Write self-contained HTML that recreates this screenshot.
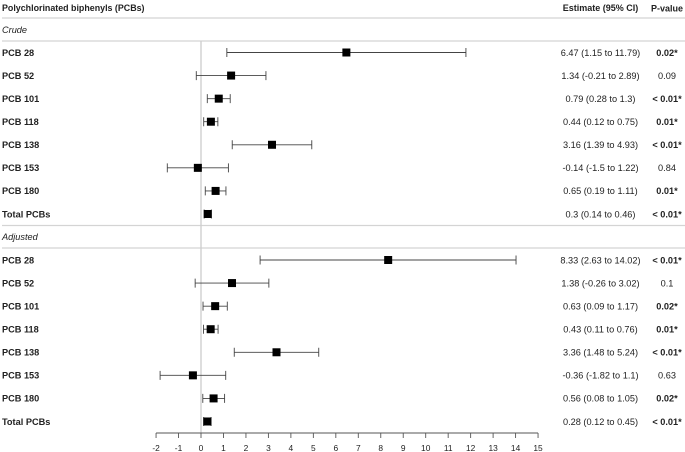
<!DOCTYPE html>
<html>
<head>
<meta charset="utf-8">
<style>
html,body{margin:0;padding:0;background:#fff;width:685px;height:452px;overflow:hidden}
svg{display:block;filter:blur(0.35px)}
text{font-family:"Liberation Sans",Arial,sans-serif;font-size:9.2px;fill:#222}
</style>
</head>
<body>
<svg id="chart" width="685" height="452" viewBox="0 0 685 452" xmlns="http://www.w3.org/2000/svg"></svg>
<script>
const categories = ["PCB 28","PCB 52","PCB 101","PCB 118","PCB 138","PCB 153","PCB 180","Total PCBs"];
const crudeEstimate = [6.47,1.34,0.79,0.44,3.16,-0.14,0.65,0.3];
const crudeLower = [1.15,-0.21,0.28,0.12,1.39,-1.5,0.19,0.14];
const crudeUpper = [11.79,2.89,1.3,0.75,4.93,1.22,1.11,0.46];
const crudeP = ["0.02*","0.09","< 0.01*","0.01*","< 0.01*","0.84","0.01*","< 0.01*"];
const adjustedEstimate = [8.33,1.38,0.63,0.43,3.36,-0.36,0.56,0.28];
const adjustedLower = [2.63,-0.26,0.09,0.11,1.48,-1.82,0.08,0.12];
const adjustedUpper = [14.02,3.02,1.17,0.76,5.24,1.1,1.05,0.45];
const adjustedP = ["< 0.01*","0.1","0.02*","0.01*","< 0.01*","0.63","0.02*","< 0.01*"];
const tickLabels = [-2,-1,0,1,2,3,4,5,6,7,8,9,10,11,12,13,14,15];

const svg = document.getElementById('chart');
const NS = 'http://www.w3.org/2000/svg';
const xScale = v => 201 + (v * 22.47);
const crudeRowY = i => 52.5 + i * 23.07;
const adjustedRowY = i => 260 + i * 23.07;

function mk(tag, attrs, txt) {
  const el = document.createElementNS(NS, tag);
  for (const k in attrs) el.setAttribute(k, attrs[k]);
  if (txt !== undefined) el.textContent = txt;
  svg.appendChild(el);
  return el;
}
function rule(y, name) {
  const el = mk('line', {x1:2, x2:685, y1:y, y2:y, stroke:'#d4d4d4', 'stroke-width':1.2});
  
  
}
function label(x, y, s, anchor, weight, style, name, size) {
  const el = mk('text', {x:x, y:y, 'text-anchor':anchor, 'font-weight':weight, 'font-style':style}, s);
  if (size) el.style.fontSize = size + 'px';
  
  
}

rule(18, 'header-rule');
rule(41, 'crude-rule');
rule(225.5, 'adjusted-top-rule');
rule(248, 'adjusted-rule');

const zero = mk('line', {x1:xScale(0), x2:xScale(0), y1:41, y2:433, stroke:'#cfcfcf', 'stroke-width':1.4});



label(2, 11, 'Polychlorinated biphenyls (PCBs)', 'start', 'bold', 'normal', 'column-title-pcbs', 8.9);
label(600.5, 11, 'Estimate (95% CI)', 'middle', 'bold', 'normal', 'column-title-estimate', 9);
label(667, 11.5, 'P-value', 'middle', 'bold', 'normal', 'column-title-p-value', 9);
label(2, 33, 'Crude', 'start', 'normal', 'italic', 'crude-section-label');
label(2, 240, 'Adjusted', 'start', 'normal', 'italic', 'adjusted-section-label');

function drawGroup(prefix, rowY, est, lo, hi, pv) {
  categories.forEach((c, i) => {
    const y = rowY(i);
    const slug = prefix + '-' + c.toLowerCase().replace(/\s+/g, '-');
    label(2, y + 3.3, c, 'start', 'bold', 'normal', slug + '-label');
    const ci = mk('path', {
      d: 'M' + xScale(lo[i]) + ' ' + y + 'H' + xScale(hi[i]) +
         'M' + xScale(lo[i]) + ' ' + (y - 4.5) + 'V' + (y + 4.5) +
         'M' + xScale(hi[i]) + ' ' + (y - 4.5) + 'V' + (y + 4.5),
      fill: 'none', stroke: '#444', 'stroke-width': 0.9
    });
    
    
    const pt = mk('rect', {x: xScale(est[i]) - 4, y: y - 4, width: 8, height: 8, fill: '#000'});
    
    
    label(600.5, y + 3.3, est[i] + ' (' + lo[i] + ' to ' + hi[i] + ')', 'middle', 'normal', 'normal', slug + '-estimate');
    const sig = pv[i].indexOf('*') >= 0;
    label(667, y + 3.3, pv[i], 'middle', sig ? 'bold' : 'normal', 'normal', slug + '-p-value');
  });
}
drawGroup('crude', crudeRowY, crudeEstimate, crudeLower, crudeUpper, crudeP);
drawGroup('adjusted', adjustedRowY, adjustedEstimate, adjustedLower, adjustedUpper, adjustedP);

const axis = mk('line', {x1:xScale(tickLabels[0]), x2:xScale(tickLabels[tickLabels.length-1]), y1:433, y2:433, stroke:'#555', 'stroke-width':0.9});


tickLabels.forEach(t => {
  const tk = mk('line', {x1:xScale(t), x2:xScale(t), y1:433, y2:438, stroke:'#555', 'stroke-width':0.9});
  
  
  const el = mk('text', {x:xScale(t), y:451, 'text-anchor':'middle', style:'font-size:8.4px'}, t);
  
  
});
</script>
</body>
</html>
